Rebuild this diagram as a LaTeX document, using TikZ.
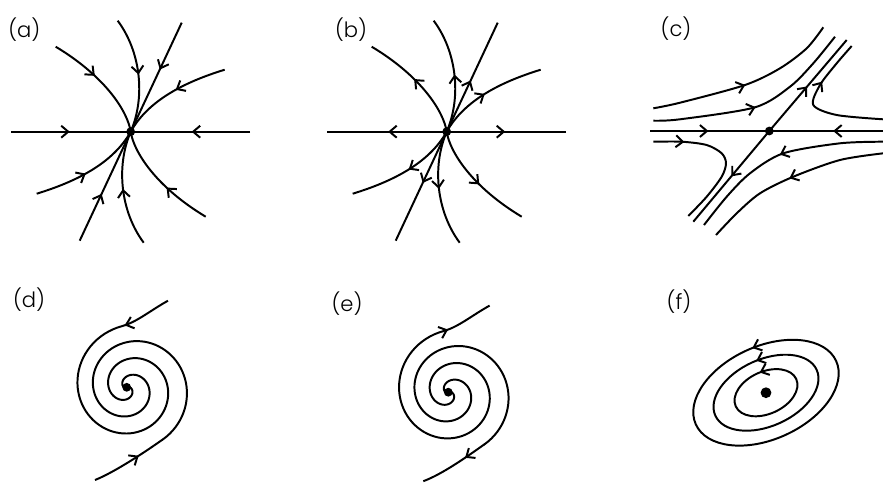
\documentclass[tikz,border=0pt]{standalone}
\usepackage{fontspec}
\usetikzlibrary{arrows.meta,decorations.markings}
\newfontfamily\panelfont{Poppins}[UprightFont=* Light]

\begin{document}
\begin{tikzpicture}[
  x=0.025cm, y=0.025cm,
  traj/.style={line width=1.4pt},
  fixpt/.style={circle, fill, inner sep=0pt, minimum size=2.2mm},
  tag/.style={font=\panelfont\fontsize{15}{15}\selectfont, inner sep=0pt},
  flow/.style={postaction={decorate}, decoration={markings,
    mark=at position #1 with {\arrow{Straight Barb[length=5pt,width=8.5pt]}}}},
  backflow/.style={postaction={decorate}, decoration={markings,
    mark=at position #1 with {\arrowreversed{Straight Barb[length=5pt,width=8.5pt]}}}}
]
\useasboundingbox (0,0) rectangle (883,-483);

\node[fixpt] (ca) at (130.7,-131.7) {};
\node[fixpt] (cb) at (446.7,-131.7) {};
\node[fixpt] (cc) at (769.3,-131) {};
\node[fixpt] (cd) at (126.7,-387.3) {};
\node[fixpt] (ce) at (448.3,-392.2) {};
\node[fixpt, minimum size=2.7mm] (cf) at (766,-392.7) {};

\node[tag] (la) at (24.3,-29.5) {(a)};
\node[tag] (lb) at (351,-29.5) {(b)};
\node[tag] (lc) at (676,-28.5) {(c)};
\node[tag] (ld) at (29,-300) {(d)};
\node[tag] (le) at (347,-304) {(e)};
\node[tag] (lf) at (679,-301.7) {(f)};

\foreach \ang in {0,180}{
  \begin{scope}[shift={(ca)}, rotate=\ang]
    \draw[traj, flow=0.49] (-119.5,0) -- (0,0);
    \draw[traj, flow=0.42] (-75,85) .. controls (-25,55) and (-3,20) .. (0,0);
    \draw[traj, flow=0.5] (-13,111) .. controls (10,80) and (15,35) .. (0,0);
    \draw[traj, flow=0.43] (51,109) -- (0,0);
    \draw[traj, flow=0.46] (94,62) .. controls (55,50) and (18,32) .. (0,0);
  \end{scope}
  \begin{scope}[shift={(cb)}, rotate=\ang]
    \draw[traj, backflow=0.51] (-119.5,0) -- (0,0);
    \draw[traj, backflow=0.46] (-75,85) .. controls (-25,55) and (-3,20) .. (0,0);
    \draw[traj, backflow=0.5] (-13,111) .. controls (10,80) and (15,35) .. (0,0);
    \draw[traj, backflow=0.53] (51,109) -- (0,0);
    \draw[traj, backflow=0.53] (94,62) .. controls (55,50) and (18,32) .. (0,0);
  \end{scope}
}

\begin{scope}[shift={(cc)}]
  \draw[traj, flow=0.49] (-119.3,0) -- (0,0);
  \draw[traj, flow=0.44] (114,0) -- (0,0);
  \draw[traj, flow=0.49] (0,0) -- (77.4,91);
  \draw[traj, flow=0.5] (0,0) -- (-76,-90.7);
  \draw[traj, flow=0.49] plot[smooth] coordinates {(-116,22.7) (-89.3,28.3) (-24.3,46) (10.7,62.7) (37.4,82.7) (54,103.7)};
  \draw[traj, flow=0.49] plot[smooth] coordinates {(-116,10.3) (-89.3,11.7) (-14.3,23.7) (20.7,44.3) (44,67.7) (65.7,94.3)};
  \draw[traj, flow=0.68] plot[smooth] coordinates {(114,11.7) (67.4,16) (44,26) (50.7,46) (67.4,67.7) (82.4,85)};
  \draw[traj, flow=0.21] plot[smooth] coordinates {(-116,-10.7) (-87.6,-10.7) (-62.6,-14) (-47.6,-22.3) (-43.3,-32.3) (-47.6,-45.7) (-62.6,-65.7) (-81,-85)};
  \draw[traj, flow=0.5] plot[smooth] coordinates {(114,-10.7) (70.7,-12.3) (14,-22.3) (-19.3,-42.3) (-42.6,-65.7) (-65.3,-94)};
  \draw[traj, flow=0.51] plot[smooth] coordinates {(114,-22.3) (70.7,-29) (24,-45.7) (-9.3,-62.3) (-32.6,-82.3) (-53.3,-104)};
\end{scope}

\begin{scope}[shift={(cd)}]
  \draw[traj, flow=1.25cm] (41.3,86.6) .. controls (23.8,76.9) and (9.9,65.1) .. (-4.6,61.2)
    -- plot[domain=100:720, samples=140] ({(71.7-0.0956*\x)*(cos(\x)+0.1)}, {(71.7-0.0956*\x)*sin(\x)});
  \draw[traj, flow=1.25cm] (-31.7,-92.7) .. controls (-11.7,-84.7) and (19.8,-63.7) .. (36.1,-52.1)
    -- plot[domain=300:900, samples=140] ({(88.9-0.0956*\x)*(cos(\x)+0.1)}, {(88.9-0.0956*\x)*sin(\x)});
\end{scope}

\begin{scope}[shift={(ce)}]
  \draw[traj, backflow=1.2cm] (41.3,86.6) .. controls (23.8,76.9) and (9.9,65.1) .. (-4.6,61.2)
    -- plot[domain=100:720, samples=140] ({(71.7-0.0956*\x)*(cos(\x)+0.1)}, {(71.7-0.0956*\x)*sin(\x)});
  \draw[traj, backflow=1.2cm] (-25,-89) .. controls (-6,-82) and (19.8,-63.7) .. (36.1,-52.1)
    -- plot[domain=300:900, samples=140] ({(88.9-0.0956*\x)*(cos(\x)+0.1)}, {(88.9-0.0956*\x)*sin(\x)});
\end{scope}

\begin{scope}[shift={(cf)}, rotate=24.3]
  \foreach \ra/\rb in {77/46.5, 55.6/33.3, 33.2/21.1}
    \draw[traj, flow=0.235] (0,0) ellipse [x radius=\ra, y radius=\rb];
\end{scope}
\end{tikzpicture}
\end{document}
